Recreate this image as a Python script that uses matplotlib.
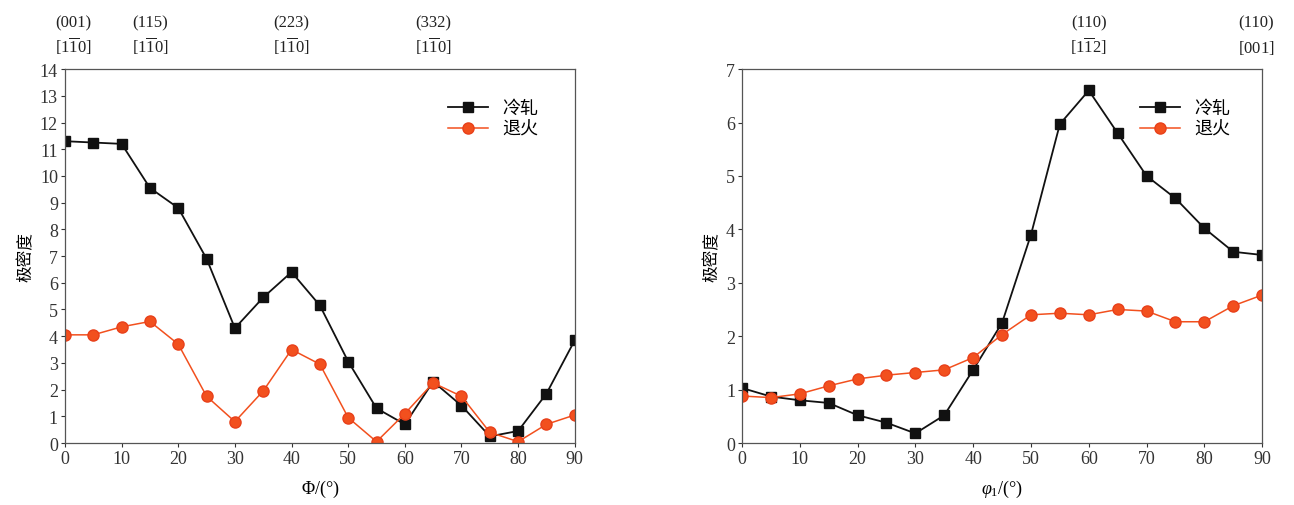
import matplotlib
matplotlib.use('Agg')
import matplotlib.pyplot as plt

# font setup: serif for numbers, CJK for the Chinese labels
plt.rcParams['font.family'] = ['Liberation Serif', 'Noto Sans CJK SC']
plt.rcParams['mathtext.fontset'] = 'custom'
plt.rcParams['mathtext.rm'] = 'Liberation Serif'
plt.rcParams['mathtext.it'] = 'Liberation Serif:italic'

# data
angles = [0, 5, 10, 15, 20, 25, 30, 35, 40, 45, 50, 55, 60, 65, 70, 75, 80, 85, 90]

phi_cold = [11.3, 11.25, 11.2, 9.55, 8.8, 6.9, 4.3, 5.45, 6.4, 5.15,
            3.05, 1.3, 0.7, 2.3, 1.4, 0.25, 0.45, 1.85, 3.85]
phi_anneal = [4.05, 4.05, 4.35, 4.55, 3.7, 1.75, 0.8, 1.95, 3.5, 2.95,
              0.95, 0.05, 1.1, 2.25, 1.75, 0.4, 0.05, 0.7, 1.05]

phi1_cold = [1.03, 0.87, 0.8, 0.75, 0.52, 0.38, 0.18, 0.52, 1.37, 2.25,
             3.9, 5.97, 6.6, 5.8, 5.0, 4.58, 4.02, 3.58, 3.52]
phi1_anneal = [0.88, 0.85, 0.92, 1.07, 1.2, 1.27, 1.32, 1.37, 1.6, 2.03,
               2.4, 2.43, 2.4, 2.5, 2.47, 2.27, 2.27, 2.57, 2.77]

left_orient_x = [1.5, 15, 40, 65]
left_planes = ['(001)', '(115)', '(223)', '(332)']
left_dirs = [r'$\mathrm{[1\overline{1}0]}$'] * 4
right_orient_x = [60, 89]
right_planes = ['(110)', '(110)']
right_dirs = [r'$\mathrm{[1\overline{1}2]}$', r'$\mathrm{[001]}$']

names = ['冷轧', '退火']
black = '#111111'
red = '#f2501e'

fig = plt.figure(figsize=(12.94, 5.06), dpi=100)
ax1 = fig.add_axes([0.0502, 0.1225, 0.394, 0.739])
ax2 = fig.add_axes([0.5734, 0.1225, 0.402, 0.739])


def draw(ax, cold, anneal, ymax, xlabel, ox, planes, dirs, legx):
    ax.plot(angles, cold, '-s', color=black, lw=1.3, ms=7, label=names[0])
    ax.plot(angles, anneal, '-o', color=red, mfc=red, mec='#e8401a',
            lw=1.1, ms=8, label=names[1])
    ax.set_xlim(0, 90)
    ax.set_ylim(0, ymax)
    ax.set_xticks(range(0, 91, 10))
    ax.set_yticks(range(0, ymax + 1))
    ax.tick_params(direction='out', length=3, width=0.8, labelsize=13,
                   pad=2, colors='#333333')
    for s in ax.spines.values():
        s.set_color('#555555')
        s.set_linewidth(0.9)
    ax.set_xlabel(xlabel, fontsize=13, labelpad=8)
    ax.set_ylabel('极密度', fontsize=12, labelpad=4)
    ax.legend(loc='upper right', frameon=False, fontsize=13,
              handlelength=2.2, bbox_to_anchor=(legx, 0.96),
              labelspacing=0.2)
    for x, p, d in zip(ox, planes, dirs):
        ax.text(x, 1.115, p, transform=ax.get_xaxis_transform(),
                ha='center', va='baseline', fontsize=12, color='#222222')
        ax.text(x, 1.045, d, transform=ax.get_xaxis_transform(),
                ha='center', va='baseline', fontsize=12, color='#222222')


draw(ax1, phi_cold, phi_anneal, 14, r'$\mathit{Φ}$/(°)',
     left_orient_x, left_planes, left_dirs, 0.96)
draw(ax2, phi1_cold, phi1_anneal, 7, r'$\varphi_1$/(°)',
     right_orient_x, right_planes, right_dirs, 0.97)

fig.savefig('out.png', dpi=100)
